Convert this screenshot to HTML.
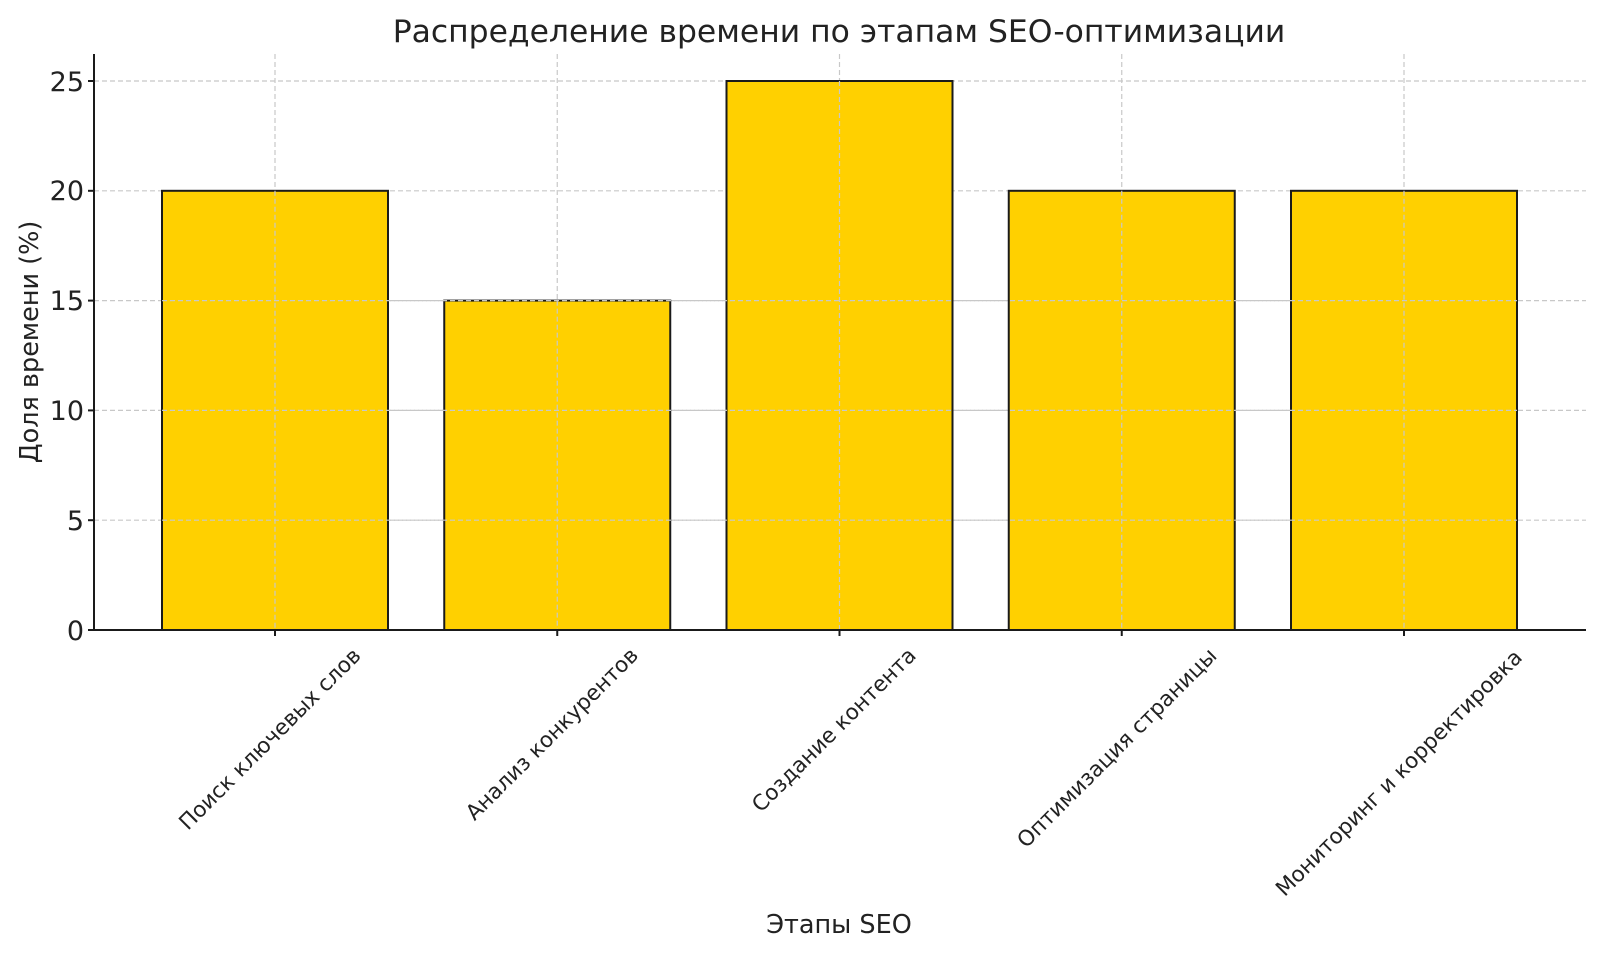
<!DOCTYPE html>
<html><head><meta charset="utf-8"><style>
html,body{margin:0;padding:0;background:#fff;}
svg{display:block;font-family:"DejaVu Sans","Liberation Sans",sans-serif;}
</style></head><body>
<svg width="1600" height="954" viewBox="0 0 1600 954" xmlns="http://www.w3.org/2000/svg">
<rect width="1600" height="954" fill="#fff"/>
<g stroke="#c8c8c8" stroke-width="1.2" stroke-dasharray="5,3">
<line x1="94" y1="520.2" x2="1586" y2="520.2"/>
<line x1="94" y1="410.4" x2="1586" y2="410.4"/>
<line x1="94" y1="300.6" x2="1586" y2="300.6"/>
<line x1="94" y1="190.8" x2="1586" y2="190.8"/>
<line x1="94" y1="81" x2="1586" y2="81"/>
<line x1="275" y1="54" x2="275" y2="630"/>
<line x1="557.25" y1="54" x2="557.25" y2="630"/>
<line x1="839.5" y1="54" x2="839.5" y2="630"/>
<line x1="1121.75" y1="54" x2="1121.75" y2="630"/>
<line x1="1404" y1="54" x2="1404" y2="630"/>
</g>
<g fill="#FFD000" stroke="#1a1a1a" stroke-width="2">
<rect x="162" y="190.8" width="226" height="439.2"/>
<rect x="444.25" y="300.6" width="226" height="329.4"/>
<rect x="726.5" y="81" width="226" height="549"/>
<rect x="1008.75" y="190.8" width="226" height="439.2"/>
<rect x="1291" y="190.8" width="226" height="439.2"/>
</g>
<g stroke="#c8c8c8" stroke-width="1.2" stroke-dasharray="5,3">
<line x1="275" y1="190.8" x2="275" y2="630"/>
<line x1="557.25" y1="300.6" x2="557.25" y2="630"/>
<line x1="839.5" y1="81" x2="839.5" y2="630"/>
<line x1="1121.75" y1="190.8" x2="1121.75" y2="630"/>
<line x1="1404" y1="190.8" x2="1404" y2="630"/>
<line x1="162" y1="520.2" x2="1517" y2="520.2"/>
<line x1="162" y1="410.4" x2="1517" y2="410.4"/>
<line x1="162" y1="300.6" x2="1517" y2="300.6"/>
</g>
<g stroke="#1a1a1a" stroke-width="2">
<line x1="94" y1="54" x2="94" y2="631"/>
<line x1="93" y1="630" x2="1586" y2="630"/>
<line x1="88" y1="630" x2="94" y2="630"/>
<line x1="88" y1="520.2" x2="94" y2="520.2"/>
<line x1="88" y1="410.4" x2="94" y2="410.4"/>
<line x1="88" y1="300.6" x2="94" y2="300.6"/>
<line x1="88" y1="190.8" x2="94" y2="190.8"/>
<line x1="88" y1="81" x2="94" y2="81"/>
<line x1="275" y1="630" x2="275" y2="636"/>
<line x1="557.25" y1="630" x2="557.25" y2="636"/>
<line x1="839.5" y1="630" x2="839.5" y2="636"/>
<line x1="1121.75" y1="630" x2="1121.75" y2="636"/>
<line x1="1404" y1="630" x2="1404" y2="636"/>
</g>
<g fill="#222" font-size="27" text-anchor="end">
<text x="84" y="640">0</text>
<text x="84" y="530">5</text>
<text x="84" y="420">10</text>
<text x="84" y="310">15</text>
<text x="84" y="200">20</text>
<text x="84" y="91">25</text>
</g>
<g fill="#222" font-size="21.5" text-anchor="middle">
<text transform="translate(275,744) rotate(-45)">Поиск ключевых слов</text>
<text transform="translate(557,739) rotate(-45)">Анализ конкурентов</text>
<text transform="translate(839,735) rotate(-45)">Создание контента</text>
<text transform="translate(1122,753) rotate(-45)">Оптимизация страницы</text>
<text transform="translate(1404,778) rotate(-45)">Мониторинг и корректировка</text>
</g>
<text x="839" y="933" text-anchor="middle" font-size="25.5" fill="#222">Этапы SEO</text>
<text transform="translate(38,342) rotate(-90)" text-anchor="middle" font-size="25.5" fill="#222">Доля времени (%)</text>
<text x="839" y="42" text-anchor="middle" font-size="31.4" fill="#222">Распределение времени по этапам SEO-оптимизации</text>
</svg>
</body></html>
